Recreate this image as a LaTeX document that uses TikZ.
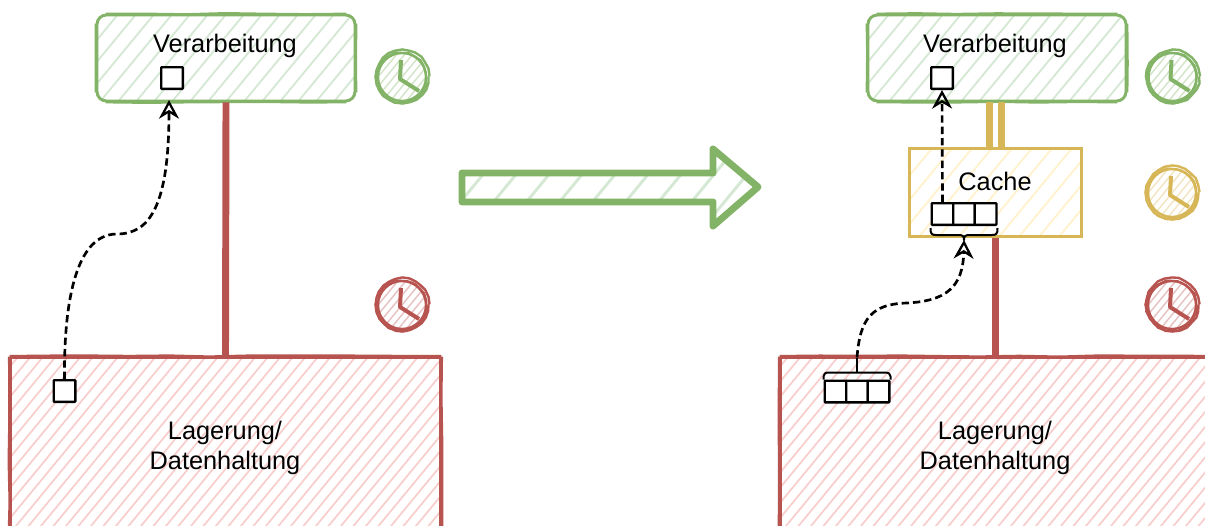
\documentclass[tikz,border=0pt]{standalone}
\usepackage{fontspec}
\setmainfont{Liberation Sans}
\usetikzlibrary{arrows.meta,decorations.pathmorphing,calc}
\definecolor{gS}{HTML}{82B366}\definecolor{gF}{HTML}{D5E8D4}
\definecolor{rS}{HTML}{B85450}\definecolor{rF}{HTML}{F8CECC}
\definecolor{yS}{HTML}{D6B656}\definecolor{yF}{HTML}{FFF2CC}
\tikzset{
  hatch/.style n args={3}{path picture={
    \foreach \k in {-110,...,110}{
      \draw[#1,line width=#3] ({\k*#2-330},400) -- ({\k*#2+330},-400);}}},
  rough/.style={decorate,decoration={random steps,segment length=5pt,amplitude=.45pt}},
  roughline/.style={decorate,decoration={random steps,segment length=30pt,amplitude=.45pt}},
  procbox/.style={draw=gS,line width=2.2pt,rounded corners=7pt,minimum width=193.5pt,minimum height=64.5pt,inner sep=0pt,hatch={gF}{18}{1.4pt}},
  cachebox/.style={draw=yS,line width=2.2pt,minimum width=129.5pt,minimum height=65.5pt,inner sep=0pt,hatch={yF}{20}{1.4pt}},
  storebox/.style={draw=rS,line width=2.2pt,minimum width=321.75pt,minimum height=166.5pt,inner sep=0pt,hatch={rF}{12.5}{1.3pt}},
  lbl/.style={font=\fontsize{19pt}{22.5pt}\selectfont,align=center,inner sep=0pt,text=black},
  cell/.style={draw=black,line width=1.7pt,fill=white,minimum size=16.3pt,inner sep=0pt,rounded corners=.6pt},
  flow/.style={draw=black,line width=2pt,dash pattern=on 5.5pt off 3pt,-{Stealth[open,length=14pt,width=15pt,inset=4.5pt,line width=1.7pt]}},
  link/.style={line width=5.2pt},
  brk/.style={draw=black,line width=1.5pt,line join=round},
}
\newcommand{\clockmark}[4]{%name,x,y,colour
  \node[circle,draw=#4,line width=1.8pt,minimum size=36pt,inner sep=0pt,
        hatch={#4!35!white}{8}{1.1pt}] (#1) at (#2,#3) {};
  \draw[#4,line width=1.8pt,rough] ($(#1)+(0.5,-0.5)$) circle (26);
  \draw[#4,line width=1.5pt,rough] ($(#1)+(-0.5,0.8)$) circle (24.5);
  \draw[#4,line width=3pt,line join=round] ($(#1)+(-1,-17)$) -- ($(#1)+(-2,2)$) -- ($(#1)+(17,14)$);
}
% second, slightly wandering stroke along the four sides; #3 = corner inset, #4 = width
\newcommand{\sketchover}[4]{%
  \draw[#2,line width=#4,roughline] ($(#1.north west)+(#3,0)$) -- ($(#1.north east)+(-#3,0)$);
  \draw[#2,line width=#4,roughline] ($(#1.north east)+(0,#3)$) -- ($(#1.south east)+(0,-#3)$);
  \draw[#2,line width=#4,roughline] ($(#1.south east)+(-#3,0)$) -- ($(#1.south west)+(#3,0)$);
  \draw[#2,line width=#4,roughline] ($(#1.south west)+(0,-#3)$) -- ($(#1.north west)+(0,#3)$);
}
\begin{document}
\begin{tikzpicture}[x=.75pt,y=-.75pt]
\clip (0,0) rectangle (1205,525);

% left column
\node[procbox] (procL) at (226,58) {};
\sketchover{procL}{gS}{10}{1.4pt}
\node[storebox] (storeL) at (225.5,469) {};
\sketchover{storeL}{rS}{0}{2.4pt}
\draw[rS,link] (procL.south) -- (storeL.north);
\node[lbl] (procLt) at (225,46) {Verarbeitung};
\node[lbl] (storeLt) at (225,448) {Lagerung/\\Datenhaltung};
\node[cell] (itemTop) at (172,78) {};
\node[cell] (itemLow) at (64.5,391) {};
\coordinate (tipL) at (169,100);
\draw[flow] (itemLow.north) .. controls (64,322) and (70,234) .. (117,234)
  .. controls (150,234) and (169,205) .. (tipL);
\clockmark{clkLg}{402}{77}{gS}
\clockmark{clkLr}{402}{305}{rS}

% big arrow
\draw[gS,line width=5.2pt,line join=round,hatch={gF}{33}{2.2pt}]
  (462,173) -- (713,173) -- (713,149) -- (758,187) -- (713,226) -- (713,202) -- (462,202) -- cycle;

% right column
\node[procbox] (procR) at (997,58) {};
\sketchover{procR}{gS}{10}{1.4pt}
\node[cachebox] (cache) at (995.5,192.5) {};
\node[storebox] (storeR) at (995.5,469) {};
\sketchover{storeR}{rS}{0}{2.4pt}
\draw[rS,link] (cache.south) -- (storeR.north);
\draw[yS,link] ([xshift=-4.6pt]cache.north) -- ([xshift=-4.6pt]cache.north |- procR.south);
\draw[yS,link] ([xshift=4.8pt]cache.north) -- ([xshift=4.8pt]cache.north |- procR.south);
\node[lbl] (procRt) at (995,46) {Verarbeitung};
\node[lbl] (cacheT) at (995,181) {Cache};
\node[lbl] (storeRt) at (995,448) {Lagerung/\\Datenhaltung};
\node[cell] (itemR) at (942,78) {};
\node[cell] (cA) at (942.5,214) {};
\node[cell] (cB) at (964,214) {};
\node[cell] (cC) at (985.5,214) {};
\node[cell] (dA) at (835.5,391.5) {};
\node[cell] (dB) at (857,391.5) {};
\node[cell] (dC) at (878.5,391.5) {};
\draw[brk] ($(cA.south west)+(0,2)$) .. controls ($(cA.south west)+(0,8)$) and ($(cA.south west)+(1,9)$) .. ($(cA.south west)+(6,9)$)
  -- ($(cB.south)+(-6,9)$) .. controls ($(cB.south)+(-1,9)$) and ($(cB.south)+(0,10)$) .. ($(cB.south)+(0,14)$)
  coordinate (upStem) .. controls ($(cB.south)+(0,10)$) and ($(cB.south)+(1,9)$) .. ($(cB.south)+(6,9)$)
  -- ($(cC.south east)+(-6,9)$) .. controls ($(cC.south east)+(-1,9)$) and ($(cC.south east)+(0,8)$) .. ($(cC.south east)+(0,2)$);
\draw[brk] (dA.north west) -- ($(dA.north west)+(0,-3)$) .. controls ($(dA.north west)+(0,-6)$) and ($(dA.north west)+(2,-7)$) .. ($(dA.north west)+(6,-7)$)
  -- ($(dC.north east)+(-6,-7)$) .. controls ($(dC.north east)+(-2,-7)$) and ($(dC.north east)+(0,-6)$) .. ($(dC.north east)+(0,-3)$) -- (dC.north east);
\coordinate (lowStem) at ($(dB.north)+(0,-7)$);
\coordinate (lowTop) at ($(dB.north)+(0,-22)$);
\draw[brk] (lowStem) -- (lowTop);
\draw[flow] (cA.north) -- (itemR.south);
\draw[flow] (lowTop) .. controls (860,318) and (872,304) .. (907,303)
  .. controls (945,301) and (963,288) .. (upStem);
\clockmark{clkRg}{1172.5}{77}{gS}
\clockmark{clkRy}{1172}{193}{yS}
\clockmark{clkRr}{1172}{305}{rS}
\end{tikzpicture}
\end{document}
